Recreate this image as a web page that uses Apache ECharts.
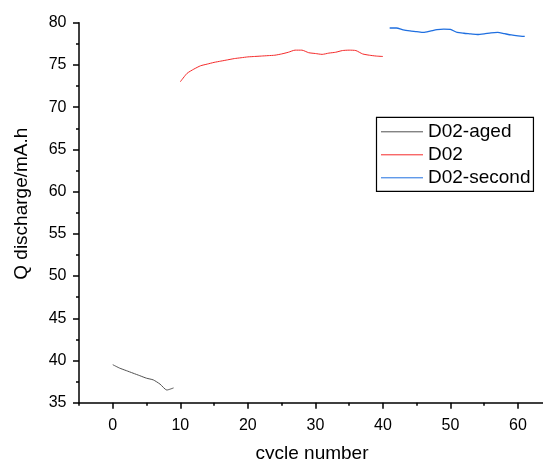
<!DOCTYPE html>
<html>
<head>
<meta charset="utf-8">
<script src="https://cdn.jsdelivr.net/npm/echarts@6/dist/echarts.min.js"></script>
<style>html,body{margin:0;padding:0;background:#fff}#c{width:543px;height:459px}</style>
</head>
<body>
<div id="c"></div>
<script>
const agedCycles = [0,1,2,3,4,5,6,7,8,9];
const agedQ = [39.5,39.1,38.8,38.5,38.2,37.9,37.7,37.2,36.5,36.75];
const d02Cycles = [10,11,12,13,14,15,16,17,18,19,20,21,22,23,24,25,26,27,28,29,30,31,32,33,34,35,36,37,38,39,40];
const d02Q = [73.0,74.0,74.5,74.9,75.1,75.3,75.45,75.6,75.75,75.85,75.95,76.0,76.05,76.1,76.15,76.3,76.5,76.75,76.75,76.45,76.35,76.25,76.4,76.5,76.7,76.75,76.7,76.3,76.15,76.05,76.0];
const secondCycles = [41,42,43,44,45,46,47,48,49,50,51,52,53,54,55,56,57,58,59,60,61];
const secondQ = [79.37,79.37,79.15,79.03,78.95,78.85,79.0,79.18,79.25,79.2,78.85,78.75,78.68,78.6,78.68,78.8,78.85,78.7,78.55,78.45,78.38];
const xMajorTicks = [0,10,20,30,40,50,60];
const xMinorTicks = [-5,5,15,25,35,45,55];
const seriesNames = ['D02-aged','D02','D02-second'];

const pairs = (xs, ys) => xs.map((x, i) => [x, ys[i]]);
const font = 'Liberation Sans, Arial, sans-serif';

const chart = echarts.init(document.getElementById('c'), null, {renderer: 'canvas'});
chart.setOption({
  animation: false,
  backgroundColor: '#fff',
  textStyle: {fontFamily: font},
  grid: {left: 79, top: 22.7, width: 466, height: 380, containLabel: false, outerBoundsMode: 'none'},
  legend: {
    orient: 'vertical', left: 376.5, top: 117.3,
    data: seriesNames,
    itemWidth: 42, itemHeight: 14, itemGap: 4,
    padding: [5, 3, 4, 4],
    borderColor: '#000', borderWidth: 1.2,
    itemStyle: {opacity: 0},
    lineStyle: {width: 1},
    textStyle: {fontSize: 19, color: '#000', fontFamily: font}
  },
  xAxis: [{
    type: 'value', min: -5, max: 64, position: 'bottom',
    axisLine: {show: true, onZero: false, lineStyle: {color: '#000', width: 1.5}},
    axisTick: {show: true, customValues: xMajorTicks, length: 6, inside: false, lineStyle: {color: '#000', width: 1.5}},
    axisLabel: {customValues: xMajorTicks, fontSize: 16, color: '#000', margin: 14.5, fontFamily: font},
    splitLine: {show: false},
    name: 'cycle number', nameLocation: 'middle', nameGap: 42,
    nameTextStyle: {fontSize: 19, color: '#000', fontFamily: font}
  }, {
    type: 'value', min: -5, max: 64, position: 'bottom', gridIndex: 0,
    axisLine: {show: false, onZero: false},
    axisTick: {show: true, customValues: xMinorTicks, length: 3, lineStyle: {color: '#000', width: 1.5}},
    axisLabel: {show: false},
    splitLine: {show: false}
  }],
  yAxis: {
    type: 'value', min: 35, max: 80, interval: 5,
    axisLine: {show: true, onZero: false, lineStyle: {color: '#000', width: 1.5}},
    axisTick: {show: true, length: 6, lineStyle: {color: '#000', width: 1.5}},
    minorTick: {show: true, splitNumber: 2, length: 3, lineStyle: {color: '#000', width: 1.5}},
    axisLabel: {fontSize: 16, color: '#000', margin: 12.5, fontFamily: font},
    splitLine: {show: false},
    name: 'Q discharge/mA.h', nameLocation: 'middle', nameGap: 48,
    nameTextStyle: {fontSize: 19, color: '#000', fontFamily: font, padding: [0, 0, 0, 18]}
  },
  series: [
    {name: seriesNames[0], type: 'line', data: pairs(agedCycles, agedQ), symbol: 'none', smooth: 0.2,
     lineStyle: {color: '#505050', width: 1}, itemStyle: {color: '#505050'}},
    {name: seriesNames[1], type: 'line', data: pairs(d02Cycles, d02Q), symbol: 'none', smooth: 0.2,
     lineStyle: {color: '#f52a2a', width: 1}, itemStyle: {color: '#f52a2a'}},
    {name: seriesNames[2], type: 'line', data: pairs(secondCycles, secondQ), symbol: 'none', smooth: 0.2,
     lineStyle: {color: '#1f6fe0', width: 1.3}, itemStyle: {color: '#1f6fe0'}}
  ]
});
</script>
</body>
</html>
